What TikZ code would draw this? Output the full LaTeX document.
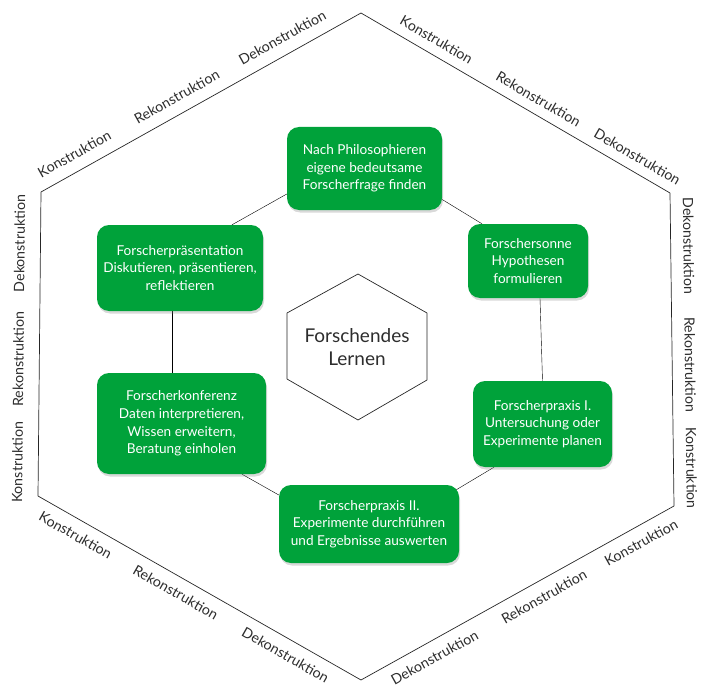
\documentclass[tikz,border=0pt]{standalone}
\usepackage{fontspec}
\setmainfont{Lato}
\usetikzlibrary{shadows,backgrounds}
\definecolor{stagegreen}{RGB}{0,162,58}
\definecolor{labelgray}{RGB}{45,45,45}
\tikzset{
  stage/.style={rectangle, rounded corners=12pt, fill=stagegreen, text=white, align=center,
    font=\fontsize{13.6}{17.7}\selectfont,
    drop shadow={opacity=0.3, shadow xshift=1pt, shadow yshift=-2.5pt}},
  edgelabel/.style={sloped, inner sep=0pt, text=labelgray, font=\fontsize{14.2}{16}\selectfont},
  rim/.style={line width=0.7pt, black!85}
}
\begin{document}
\begin{tikzpicture}[x=1pt, y=-1pt, line join=round, line cap=round]
 \useasboundingbox (0,0) rectangle (709,687);
 \coordinate (top) at (361,13); \coordinate (ur) at (670,193);
 \coordinate (lr) at (674,506); \coordinate (bot) at (361,680);
 \coordinate (ll) at (38,496);  \coordinate (ul) at (41,192);
 \draw[rim] (top)--(ur)--(lr)--(bot)--(ll)--(ul)--cycle;
 \foreach \t/\w [count=\i] in {0.13/Konstruktion,0.45/Rekonstruktion,0.78/Dekonstruktion}
   \path (ul)--(top) node[edgelabel, pos=\t, above=11.5pt] (tl\i) {\w};
 \foreach \t/\w [count=\i] in {0.22/Konstruktion,0.55/Rekonstruktion,0.87/Dekonstruktion}
   \path (top)--(ur) node[edgelabel, pos=\t, above=9.5pt] (tr\i) {\w};
 \foreach \t/\w [count=\i] in {0.17/Dekonstruktion,0.55/Rekonstruktion,0.88/Konstruktion}
   \path (ur)--(lr) node[edgelabel, pos=\t, above=12.5pt] (rr\i) {\w};
 \foreach \t/\w [count=\i] in {0.21/Dekonstruktion,0.56/Rekonstruktion,0.87/Konstruktion}
   \path (bot)--(lr) node[edgelabel, pos=\t, below=10.5pt] (br\i) {\w};
 \foreach \t/\w [count=\i] in {0.14/Konstruktion,0.45/Rekonstruktion,0.79/Dekonstruktion}
   \path (ll)--(bot) node[edgelabel, pos=\t, below=10pt] (bl\i) {\w};
 \foreach \t/\w [count=\i] in {0.11/Konstruktion,0.45/Rekonstruktion,0.83/Dekonstruktion}
   \path (ll)--(ul) node[edgelabel, pos=\t, above=15.5pt] (ll\i) {\w};

 \node[align=center, text=labelgray, font=\fontsize{19}{23.5}\selectfont] (core) at (357,347) {Forschendes\\Lernen};
 \draw[rim] (358,274)--(427,313)--(427,380)--(358,420)--(287,379)--(287,313)--cycle;

 \node[stage, minimum width=155pt, minimum height=83pt] (ask) at (364.5,168.5)
   {Nach Philosophieren\\eigene bedeutsame\\Forscherfrage finden};
 \node[stage, minimum width=120pt, minimum height=74pt] (sun) at (528,261)
   {Forschersonne\\Hypothesen\\formulieren};
 \node[stage, minimum width=139pt, minimum height=86pt] (plan) at (542.5,424)
   {Forscherpraxis I.\\Untersuchung oder\\Experimente planen};
 \node[stage, minimum width=180pt, minimum height=78pt] (run) at (369,524)
   {Forscherpraxis II.\\Experimente durchführen\\und Ergebnisse auswerten};
 \node[stage, minimum width=169pt, minimum height=101pt] (confer) at (181.5,423.5)
   {Forscherkonferenz\\Daten interpretieren,\\Wissen erweitern,\\Beratung einholen};
 \node[stage, minimum width=166pt, minimum height=86pt] (show) at (180,268)
   {Forscherpräsentation\\Diskutieren, präsentieren,\\reflektieren};

 \begin{scope}[on background layer, rim]
  \draw ([yshift=-31pt]ask.east) -- ([xshift=-46pt]sun.north);
  \draw ([xshift=12pt]sun.south) -- (plan.north);
  \draw ([xshift=-48.5pt]plan.south) -- ([xshift=-8pt,yshift=-8pt]run.north east);
  \draw ([xshift=60.5pt]confer.south) -- ([yshift=29pt]run.west);
  \draw ([xshift=-8pt]show.south) -- ([xshift=-9.5pt]confer.north);
  \draw ([yshift=-25.5pt]ask.west) -- ([xshift=52pt]show.north);
 \end{scope}
\end{tikzpicture}
\end{document}
